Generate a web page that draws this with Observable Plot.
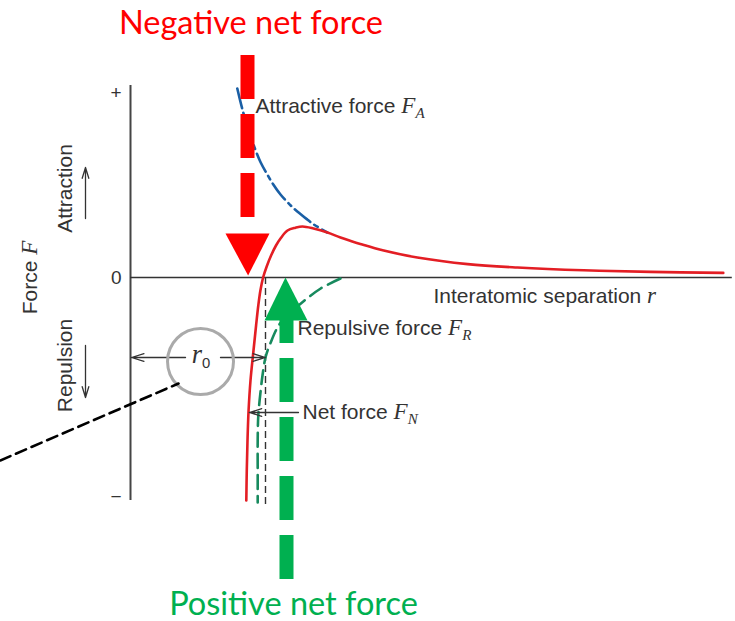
<!DOCTYPE html>
<html><head><meta charset="utf-8">
<script src="https://cdn.jsdelivr.net/npm/d3@7"></script>
<script src="https://cdn.jsdelivr.net/npm/@observablehq/plot@0.6"></script>
<style>body{margin:0;background:#fff} svg{display:block}</style>
</head><body><div id="chart"></div>
<script>
// Data (r: separation units, F: force units)
const attractR = [17.8, 18.7, 19.7, 20.8, 21.7, 22.8, 23.8, 25.0, 26.7, 27.8, 29.5, 30.5, 32.8];
const attractF = [94.5, 83.5, 73.5, 64, 57.5, 51.5, 46.5, 41.5, 36, 33, 28.9, 26.6, 22.5];
const netR = [19.30, 19.38, 19.50, 19.68, 20.00, 20.50, 20.93, 21.30, 21.65, 22.10, 22.70, 23.43, 24.25, 25.0, 26.17, 27.5, 28.67, 30.5, 32.83, 35.0, 36.7, 38.3, 42.2, 47.8, 56.2, 64.5, 75.5, 86.7, 98.8];
const netF = [-111.5, -96.5, -81.5, -66.5, -51.5, -36.5, -24, -14, -6.5, 0, 5.5, 11, 16, 19.5, 23.5, 24.9, 25.5, 24.5, 22.5, 20.0, 18.3, 16.8, 13.5, 10.0, 6.7, 5.0, 3.6, 2.8, 2.3];
const repulsR = [35.0, 31.7, 28.8, 26.7, 24.8, 23.3, 22.5, 22.0, 21.7, 21.3, 21.2, 21.2, 21.2];
const repulsF = [-0.5, -5.5, -12, -17.5, -23.5, -33, -40, -49, -56.5, -69, -81.5, -96.5, -112.5];
const r0 = 22.5;

const yTicks = [92.5, 0, -109.5];
const yTickLabels = ["+", "0", "−"];

const curveLabels = ["Attractive force $F_A", "Interatomic separation $r", "Repulsive force $F_R", "Net force $F_N"];
const curveLabelR = [20.83, 50.5, 27.83, 28.67];
const curveLabelF = [82.5, -12.5, -28.5, -70.5];

const r0Label = ["$r_0"];
const r0LabelR = [10.2];
const r0LabelF = [-42.5];

const sideLabels = ["Attraction", "Force $F", "Repulsion"];
const sideLabelR = [-10.8, -16.7, -10.8];
const sideLabelF = [44.5, 0, -44];

const callouts = ["Negative net force", "Positive net force"];
const calloutR = [20.08, 27.17];
const calloutF = [122, -168.5];

// annotation geometry (data units)
const redShaft = {r: 19.5, from: 111, to: 22.5};
const redHead = {r: [15.83, 19.6, 23.17], f: [22, 1, 22]};
const greenShaft = {r: 26, from: -151, to: -12.5};
const greenHead = {r: [22.33, 25.83, 29.5], f: [-21.5, 0, -21.5]};
const dimArrows = {r1: [9.17, 15, 28], r2: [0.17, 22.5, 19.8], f: [-40, -40, -67.5]};
const sideArrows = {r: [-7.5, -7.5], f1: [29.5, -34], f2: [55, -60]};
const circle = {r: 11.67, f: -42};
const pointer = {r: [-21.7, 8], f: [-91.5, -53]};

const zip = (a, b) => a.map((v, i) => ({x: v, y: b[i]}));
const sans = "'Liberation Sans', Arial, sans-serif";
const ink = "#333";

const plot = Plot.plot({
  width: 735, height: 621,
  marginLeft: 130, marginRight: 5, marginTop: 87, marginBottom: 114,
  x: {domain: [0, 100], axis: null},
  y: {domain: [-115, 95]},
  style: {color: ink, background: "#fff", overflow: "visible"},
  marks: [
    Plot.axisY(yTicks, {tickFormat: d => yTickLabels[yTicks.indexOf(d)], tickSize: 0, tickPadding: 9, fontSize: 19, fontFamily: sans, label: null}),
    Plot.ruleX([0], {y1: 96, y2: -111.5, stroke: "#444", strokeWidth: 2}),
    Plot.ruleY([0], {x1: 0, x2: 100.3, stroke: "#333", strokeWidth: 1.6}),
    Plot.ruleX([r0], {y1: 0, y2: -114, stroke: "#333", strokeWidth: 1.4, strokeDasharray: "7,4"}),
    Plot.line(zip(attractR, attractF), {x: "x", y: "y", stroke: "#1a5fa5", strokeWidth: 2.6, strokeDasharray: "20,5,4,5", curve: "catmull-rom"}),
    Plot.line(zip(repulsR, repulsF), {x: "x", y: "y", stroke: "#178a5e", strokeWidth: 2.6, strokeDasharray: "14,7", curve: "catmull-rom"}),
    Plot.line(zip(netR, netF), {x: "x", y: "y", stroke: "#e31e24", strokeWidth: 2.6, curve: "catmull-rom"}),
    Plot.arrow(dimArrows.r1.map((v, i) => i), {x1: i => dimArrows.r1[i], x2: i => dimArrows.r2[i], y1: i => dimArrows.f[i], y2: i => dimArrows.f[i], stroke: "#333", strokeWidth: 1.3, headLength: 15, headAngle: 34}),
    Plot.arrow([0, 1], {x1: i => sideArrows.r[i], x2: i => sideArrows.r[i], y1: i => sideArrows.f1[i], y2: i => sideArrows.f2[i], stroke: "#333", strokeWidth: 1.3, headLength: 13, headAngle: 34}),
    Plot.dot([circle], {x: "r", y: "f", r: 33, stroke: "#aaa", strokeWidth: 3, fill: "none"}),
    Plot.line(zip(pointer.r, pointer.f), {x: "x", y: "y", stroke: "#000", strokeWidth: 2.6, strokeDasharray: "11,6"}),
    Plot.ruleX([redShaft], {x: "r", y1: "from", y2: "to", stroke: "#ff0000", strokeWidth: 14, strokeDasharray: "44,15"}),
    Plot.line(zip(redHead.r, redHead.f), {x: "x", y: "y", fill: "#ff0000", stroke: "none"}),
    Plot.ruleX([greenShaft], {x: "r", y1: "from", y2: "to", stroke: "#00b050", strokeWidth: 14, strokeDasharray: "44,15"}),
    Plot.line(zip(greenHead.r, greenHead.f), {x: "x", y: "y", fill: "#00b050", stroke: "none"}),
    Plot.text(curveLabels, {x: (d, i) => curveLabelR[i], y: (d, i) => curveLabelF[i], text: d => d, textAnchor: "start", lineAnchor: "bottom", fontSize: 21, fontFamily: sans, fill: ink}),
    Plot.text(r0Label, {x: (d, i) => r0LabelR[i], y: (d, i) => r0LabelF[i], text: d => d, textAnchor: "start", lineAnchor: "bottom", fontSize: 24, fontFamily: sans, fill: ink}),
    Plot.text(sideLabels, {x: (d, i) => sideLabelR[i], y: (d, i) => sideLabelF[i], text: d => d, rotate: -90, textAnchor: "middle", fontSize: 21, fontFamily: sans, fill: ink}),
    Plot.text(callouts, {x: (d, i) => calloutR[i], y: (d, i) => calloutF[i], text: d => d, textAnchor: "middle", lineAnchor: "bottom", fontSize: 32.5, fontFamily: "Lato, 'Open Sans', sans-serif", fill: (d, i) => i === 0 ? "#ff0000" : "#00b050"})
  ]
});

// y tick labels: make sure size / family are applied
plot.querySelectorAll("text").forEach(t => {
  if (yTickLabels.includes(t.textContent)) {
    t.style.fontSize = "19px";
    t.style.fontFamily = sans;
  }
});

// turn "$F_A" markers into italic math symbols with subscripts
const ns = "http://www.w3.org/2000/svg";
plot.querySelectorAll("text").forEach(t => {
  const s = t.textContent;
  if (!s.includes("$")) return;
  const [pre, math] = s.split("$");
  const [sym, sub] = math.split("_");
  t.textContent = "";
  if (pre) { const a = document.createElementNS(ns, "tspan"); a.textContent = pre; t.appendChild(a); }
  const b = document.createElementNS(ns, "tspan");
  b.textContent = sym;
  b.setAttribute("font-family", "'Liberation Serif', 'DejaVu Serif', serif");
  b.setAttribute("font-style", "italic");
  b.setAttribute("font-size", "1.1em");
  t.appendChild(b);
  if (sub) {
    const c = document.createElementNS(ns, "tspan");
    c.textContent = sub;
    c.setAttribute("font-size", /[0-9]/.test(sub) ? "0.62em" : "0.72em");
    c.setAttribute("dy", "0.35em");
    if (/[A-Za-z]/.test(sub)) { c.setAttribute("font-family", "'Liberation Serif', serif"); c.setAttribute("font-style", "italic"); }
    t.appendChild(c);
  }
});

document.getElementById("chart").appendChild(plot);
</script>
</body></html>
